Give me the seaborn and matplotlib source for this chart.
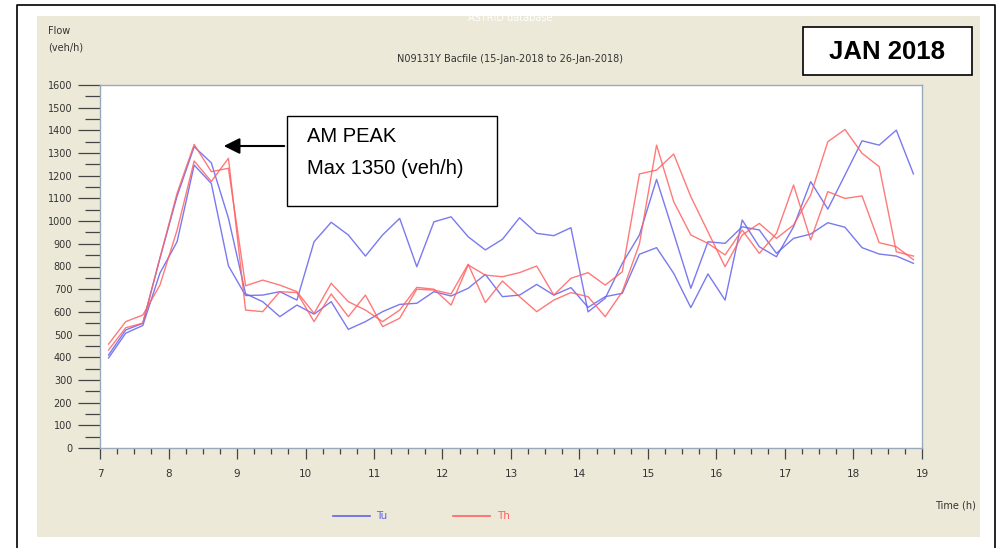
import numpy as np
import pandas as pd
import seaborn as sns
import matplotlib.pyplot as plt
from matplotlib.patches import Rectangle
from matplotlib.lines import Line2D
from matplotlib.ticker import MultipleLocator

# 15-minute counts, plotted at the middle of each interval
times = np.arange(7.125, 19.0, 0.25)
tu_16 = [397, 506, 540, 771, 909, 1247, 1166, 803, 672, 674,
         689, 652, 909, 995, 939, 846, 939, 1012, 799, 997,
         1019, 931, 873, 920, 1015, 946, 936, 971, 600, 660,
         814, 939, 1184, 946, 704, 909, 902, 975, 961, 858,
         924, 943, 993, 973, 883, 855, 846, 814]
tu_23 = [410, 520, 550, 837, 1110, 1328, 1257, 1013, 680, 645,
         579, 630, 590, 645, 523, 557, 601, 633, 638, 689,
         670, 704, 765, 667, 674, 721, 674, 707, 620, 667,
         682, 854, 883, 770, 619, 767, 652, 1005, 887, 843,
         975, 1174, 1053, 1203, 1354, 1335, 1401, 1208]
th_18 = [458, 557, 586, 718, 960, 1265, 1175, 1277, 608, 601,
         689, 685, 557, 679, 579, 674, 535, 572, 700, 696,
         679, 810, 641, 736, 667, 601, 652, 685, 667, 579,
         689, 900, 1335, 1086, 939, 902, 851, 961, 858, 946,
         1159, 917, 1130, 1100, 1111, 905, 887, 830]
th_25 = [432, 530, 550, 837, 1123, 1338, 1218, 1233, 715, 740,
         718, 689, 593, 726, 645, 608, 557, 608, 708, 700,
         630, 807, 762, 755, 773, 802, 674, 748, 773, 718,
         777, 1208, 1225, 1296, 1108, 953, 799, 939, 990, 924,
         983, 1115, 1350, 1404, 1299, 1240, 865, 846]

rows = []
for day, week, vals in [('Tu', '16-Jan', tu_16), ('Tu', '23-Jan', tu_23),
                        ('Th', '18-Jan', th_18), ('Th', '25-Jan', th_25)]:
    for t, v in zip(times, vals):
        rows.append((t, v, day, week))
df = pd.DataFrame(rows, columns=['time', 'flow', 'day', 'week'])

W, H = 1004, 548
def fx(px):
    return px / W
def fy(py):
    return 1 - py / H

blue = '#6262ee'
red = '#ff6262'
beige = '#ece9d8'
grey = '#444444'

fig = plt.figure(figsize=(W / 100, H / 100), dpi=100)
fig.patch.set_facecolor('white')

# outer frame and beige panel
fig.add_artist(Line2D([fx(17), fx(17), fx(995), fx(995)], [0, fy(5), fy(5), 0],
                      transform=fig.transFigure, color='black', lw=1.2))
fig.add_artist(Rectangle((fx(37), fy(537)), fx(980) - fx(37), fy(16) - fy(537),
                         transform=fig.transFigure, facecolor=beige, edgecolor='none', zorder=0))

ax = fig.add_axes([fx(100), fy(448), fx(922) - fx(100), fy(85) - fy(448)])
ax.set_facecolor('white')

sns.lineplot(data=df, x='time', y='flow', hue='day', units='week', estimator=None,
             palette={'Tu': blue, 'Th': red}, legend=False, lw=1.0, alpha=0.85, ax=ax)

ax.set_xlim(7, 19)
ax.set_ylim(0, 1600)
ax.xaxis.set_major_locator(MultipleLocator(1))
ax.xaxis.set_minor_locator(MultipleLocator(0.25))
ax.yaxis.set_major_locator(MultipleLocator(100))
ax.yaxis.set_minor_locator(MultipleLocator(50))
ax.set_xlabel('')
ax.set_ylabel('')
for s in ax.spines.values():
    s.set_color('#9aa8bc')
    s.set_linewidth(1.0)
ax.tick_params(axis='y', which='major', length=16, width=0.9, color=grey, pad=4,
               labelsize=7, labelcolor='#333333')
ax.tick_params(axis='y', which='minor', length=10.5, width=0.9, color=grey)
ax.tick_params(axis='x', which='major', length=8, width=0.9, color=grey, pad=7,
               labelsize=7.5, labelcolor='#333333')
ax.tick_params(axis='x', which='minor', length=4.5, width=0.9, color=grey)

# texts around the plot
fig.text(fx(48), fy(31), 'Flow', fontsize=7, color='#333333', va='center')
fig.text(fx(48), fy(47), '(veh/h)', fontsize=7, color='#333333', va='center')
fig.text(fx(510), fy(18), 'ASTRID database', fontsize=7, color='white', ha='center', va='center')
fig.text(fx(510), fy(59), 'N09131Y Bacfile (15-Jan-2018 to 26-Jan-2018)', fontsize=7,
         color='#333333', ha='center', va='center')
fig.text(fx(955), fy(505), 'Time (h)', fontsize=7, color='#333333', ha='center', va='center')

# legend
fig.add_artist(Line2D([fx(333), fx(370)], [fy(516)] * 2, transform=fig.transFigure, color=blue, lw=1.2))
fig.text(fx(376), fy(516), 'Tu', fontsize=7.5, color=blue, va='center')
fig.add_artist(Line2D([fx(453), fx(490)], [fy(516)] * 2, transform=fig.transFigure, color=red, lw=1.2))
fig.text(fx(497), fy(516), 'Th', fontsize=7.5, color=red, va='center')

# month box
fig.add_artist(Rectangle((fx(803), fy(75)), fx(972) - fx(803), fy(27) - fy(75),
                         transform=fig.transFigure, facecolor='white', edgecolor='black', lw=1.2))
fig.text(fx(887), fy(52), 'JAN 2018', fontsize=18.5, fontweight='bold', ha='center', va='center',
         family='Liberation Sans')

# AM peak call-out
fig.add_artist(Rectangle((fx(287), fy(206)), fx(497) - fx(287), fy(116) - fy(206),
                         transform=fig.transFigure, facecolor='white', edgecolor='black', lw=1.0, zorder=5))
fig.text(fx(307), fy(137), 'AM PEAK', fontsize=14.5, va='center', family='Liberation Sans', zorder=6)
fig.text(fx(307), fy(168), 'Max 1350 (veh/h)', fontsize=14.5, va='center', family='Liberation Sans', zorder=6)
ax.annotate('', xy=(fx(221), fy(146)), xytext=(fx(287), fy(146)), xycoords='figure fraction',
            textcoords='figure fraction',
            arrowprops=dict(arrowstyle='-|>', mutation_scale=24, color='black', lw=1.5))

fig.savefig('out.png', dpi=100)
